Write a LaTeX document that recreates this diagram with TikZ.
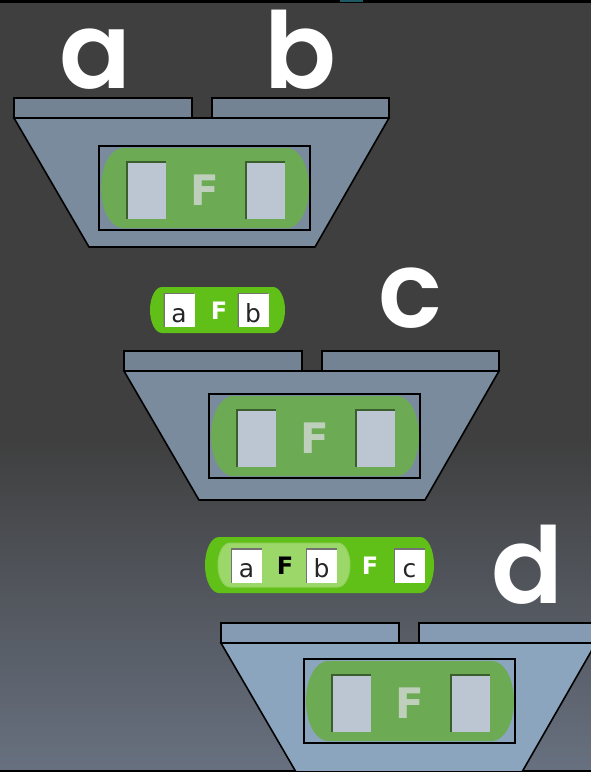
\documentclass[tikz,border=0pt]{standalone}
\usepackage{fontspec}
\usepackage{xcolor}
\usepackage{tikz}
\usetikzlibrary{positioning}
\newfontfamily\labelfont{Poppins SemiBold}
\newfontfamily\blockfont{DejaVu Sans}
\definecolor{bggray}{RGB}{63, 63, 63}
\definecolor{bgbottom}{RGB}{104, 113, 128}
\definecolor{hopperblue}{RGB}{122, 139, 157}
\definecolor{hopperlight}{RGB}{140, 165, 190}
\definecolor{pillgreen}{RGB}{108, 170, 84}
\definecolor{slotgray}{RGB}{188, 197, 210}
\definecolor{palef}{RGB}{190, 208, 188}
\definecolor{blockgreen}{RGB}{96, 192, 24}
\definecolor{innergreen}{RGB}{155, 215, 105}
\definecolor{topteal}{RGB}{30, 90, 100}
\tikzset{
  outline/.style={
    draw=black,
    line width=1.6pt,
    line join=miter
  },
  biglabel/.style={
    anchor=base,
    text=white,
    inner sep=0pt,
    font=\labelfont\fontsize{106}{106}\selectfont
  },
  hopperslot/.style={
    fill=slotgray,
    minimum width=40pt,
    minimum height=58pt,
    inner sep=0pt,
    path picture={
      \draw[line width=3pt, black!45!pillgreen]
        (path picture bounding box.south west) --
        (path picture bounding box.north west) --
        (path picture bounding box.north east);
    }
  },
  hopperf/.style={
    text=palef,
    inner sep=0pt,
    font=\blockfont\bfseries\fontsize{42}{42}\selectfont
  },
  blockslot/.style={
    fill=white,
    minimum width=31pt,
    minimum height=34pt,
    text height=26pt,
    text depth=2pt,
    inner sep=0pt,
    text=black!85,
    font=\blockfont\fontsize{25}{25}\selectfont,
    path picture={
      \draw[line width=2pt, black!55]
        (path picture bounding box.south west) --
        (path picture bounding box.north west) --
        (path picture bounding box.north east);
    }
  },
  blockf/.style={
    inner sep=0pt,
    font=\blockfont\bfseries\fontsize{24}{24}\selectfont
  }
}
% #1 name, #2 #3 shift of the frame, #4 #5 corner of the inner box, #6 fill
\newcommand{\hopper}[6]{%
  \begin{scope}[shift={(#2,#3)}]
    \draw[outline, fill=#6] (14,118) -- (389,118) -- (315,247) -- (89,247) -- cycle;
    \draw[outline, fill=#6!94!black] (14,98) rectangle (192,118);
    \draw[outline, fill=#6!94!black] (212,98) rectangle (389,118);
  \end{scope}
  \begin{scope}[shift={(#4,#5)}]
    \draw[line width=1.2pt, fill=#6] (0,0) rectangle (211,84);
    \fill[pillgreen] (24,2) -- (188,2)
      arc[start angle=-90, end angle=90, x radius=22, y radius=40] -- (24,82)
      arc[start angle=90, end angle=270, x radius=22, y radius=40] -- cycle;
    \node[hopperslot] (#1l) at (47,44) {};
    \node[hopperslot] (#1r) at (166,44) {};
    \node[hopperf] (#1F) at (106,44) {F};
  \end{scope}
}

\begin{document}
\begin{tikzpicture}[x=1pt, y=-1pt]
  \useasboundingbox (0,0) rectangle (591,772);
  \clip (0,0) rectangle (591,772);
  % background
  \fill[bggray] (0,0) rectangle (591,441);
  \shade[top color=bggray, bottom color=bgbottom] (0,440) rectangle (591,772);
  \fill[black] (0,0) rectangle (591,3);
  \fill[topteal] (340,0) rectangle (363,1.5);
  \fill[black] (0,770) rectangle (591,772);

  % hoppers
  \hopper{h1}{0}{0}{99}{146}{hopperblue}
  \hopper{h2}{110}{253}{209}{394}{hopperblue}
  \hopper{h3}{207}{525}{304}{659}{hopperlight}

  % labels
  \node[biglabel] (la) at (95,88) {a};
  \node[biglabel] (lb) at (300,88) {b};
  \node[biglabel] (lc) at (410,327) {c};
  \node[biglabel] (ld) at (527,603) {d};

  % block a F b
  \fill[blockgreen] (162,287) -- (273,287)
    arc[start angle=-90, end angle=90, x radius=12, y radius=23] -- (162,333)
    arc[start angle=90, end angle=270, x radius=12, y radius=23] -- cycle;
  \node[blockslot] (ba) at (179,310) {a};
  \node[blockf, text=white] (bf) at (219,311) {F};
  \node[blockslot] (bb) at (253,310) {b};

  % block (a F b) F c
  \fill[blockgreen] (219,537) -- (420,537)
    arc[start angle=-90, end angle=90, x radius=14, y radius=28] -- (219,593)
    arc[start angle=90, end angle=270, x radius=14, y radius=28] -- cycle;
  \draw[innergreen!80!blockgreen, fill=innergreen, line width=1pt] (230,543) -- (338,543)
    arc[start angle=-90, end angle=90, x radius=12, y radius=22] -- (230,587)
    arc[start angle=90, end angle=270, x radius=12, y radius=22] -- cycle;
  \node[blockslot] (ca) at (246.5,565.5) {a};
  \node[blockf, text=black] (cf) at (285,566) {F};
  \node[blockslot] (cb) at (321.5,565.5) {b};
  \node[blockf, text=white] (cg) at (370,566) {F};
  \node[blockslot] (cc) at (409.5,565.5) {c};
\end{tikzpicture}
\end{document}
